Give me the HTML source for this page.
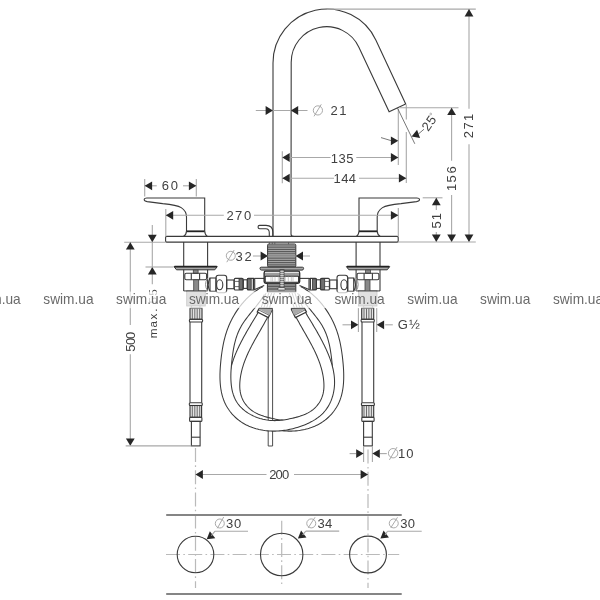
<!DOCTYPE html>
<html><head><meta charset="utf-8"><title>drawing</title><style>
html,body{margin:0;padding:0;background:#fff;}
svg{display:block;will-change:transform;}
.o{fill:none;stroke:#3a3a3a;stroke-width:1.1;}
.or{fill:none;stroke:#444;stroke-width:0.95;}
.oc{fill:none;stroke:#3a3a3a;stroke-width:1.05;}
.ol{fill:none;stroke:#888;stroke-width:1;}
.ok{stroke:#222;stroke-width:1.8;}
.oh{stroke:#555;stroke-width:0.85;}
.oh2{stroke:#bbb;stroke-width:0.8;}
.ob{fill:#fff;stroke:#2a2a2a;stroke-width:1.6;}
.ow{fill:#fff;stroke:#333;stroke-width:1.1;}
.nb{fill:#9c9c9c;stroke:#2a2a2a;stroke-width:1.3;}
.wb{fill:#fff;stroke:none;}
.pl{fill:#fff;stroke:#3a3a3a;stroke-width:1.1;}
.fl{fill:#a8a8a8;stroke:#333;stroke-width:1;}
.th{fill:#8a8a8a;stroke:#444;stroke-width:0.8;}
.tb{fill:#bcbcbc;stroke:#333;stroke-width:1;}
.thl{stroke:#4a4a4a;stroke-width:0.95;}
.thl2{stroke:#ddd;stroke-width:0.8;}
.wl{stroke:#f4f4f4;stroke-width:0.9;}
.lt{fill:#909090;stroke:#444;stroke-width:0.8;}
.lt2{fill:#fff;stroke:#444;stroke-width:0.8;}
.cr{fill:#e4e4e4;stroke:#333;stroke-width:1.1;}
.kn{fill:#707070;stroke:#333;stroke-width:0.8;}
.ok2{stroke:#333;stroke-width:1.3;}
.crp{fill:#fff;stroke:#333;stroke-width:1.3;}
.d{stroke:#a8a8a8;stroke-width:1.1;}
.cl{stroke:#bababa;stroke-width:1.2;stroke-dasharray:14,3.3,1.6,3.3;}
.hl{stroke:#858585;stroke-width:2;}
.thin{stroke:#555;stroke-width:0.8;}
.ds{fill:none;stroke:#a0a0a0;stroke-width:0.9;}
.a{fill:#262626;}
.tr{font-family:"Liberation Sans",sans-serif;font-size:13px;fill:#404040;}
.one{fill:none;stroke:#383838;stroke-width:1.25;stroke-linejoin:miter;}
.tg{font-family:"Liberation Sans",sans-serif;font-size:13px;fill:#333;}
.wm{font-family:"Liberation Sans",sans-serif;font-size:14.5px;fill:#6a6a6a;}
</style></head><body>
<svg width="600" height="600" viewBox="0 0 600 600">
<rect width="600" height="600" fill="#fff"/>
<path class="o" d="M273,236 L273,63 A54,54 0 0 1 375.94,40.18 L405.7,104 L389.12,111.73 L358.87,47.2 A35.5,35.5 0 0 0 291.2,62.2 L291,234 Q291,236.4 293.5,236.4"/>
<path class="o" d="M272.8,236.4 L272.8,232 C272.8,227.2 270,225.4 266,225.4 L259.6,225.4 C257.5,225.4 257.5,228.8 259.6,228.8 L265.8,228.8 C268.5,228.8 269.3,230.5 269.3,233 L269.3,236.4"/>
<rect class="pl" x="165.6" y="236.4" width="232.6" height="5.7" rx="1"/>
<path class="o" d="M359,231 L359,198 L416.5,198 C420.5,197.8 420.5,200.8 416.5,201.6 L401,203.6 C391,204.6 386,205.4 382.5,207.6 C378.8,210 377.2,213 377.2,217 L377.2,231"/>
<line class="ok" x1="359" y1="231.3" x2="377.2" y2="231.3"/>
<path class="o" d="M359,231 Q358.8,235 356.3,236.4"/>
<path class="o" d="M377.2,231 Q377.4,235 380.3,236.4"/>
<path class="o" d="M204.7,231 L204.7,198 L147.2,198 C143.2,197.8 143.2,200.8 147.2,201.6 L162.7,203.6 C172.7,204.6 177.7,205.4 181.2,207.6 C184.9,210 186.5,213 186.5,217 L186.5,231"/>
<line class="ok" x1="204.7" y1="231.3" x2="186.5" y2="231.3"/>
<path class="o" d="M204.7,231 Q204.9,235 207.4,236.4"/>
<path class="o" d="M186.5,231 Q186.3,235 183.4,236.4"/>
<line class="or" x1="268.2" y1="310" x2="268.2" y2="446"/>
<line class="or" x1="272.6" y1="310" x2="272.6" y2="446"/>
<line class="or" x1="268.2" y1="446" x2="272.6" y2="446"/>
<path class="oc" d="M300.9,286.68 L302.22,287.38 L303.52,288.12 L304.8,288.9 L306.06,289.7 L307.3,290.54 L308.52,291.4 L309.72,292.29 L310.9,293.21 L312.06,294.16 L313.2,295.13 L314.31,296.12 L315.41,297.14 L316.48,298.17 L317.54,299.23 L318.57,300.32 L319.58,301.42 L320.57,302.54 L321.54,303.67 L322.49,304.83 L323.41,306 L324.32,307.19 L325.2,308.4 L326.06,309.62 L326.9,310.86 L327.72,312.11 L328.52,313.38 L329.29,314.65 L330.05,315.95 L330.78,317.25 L331.48,318.57 L332.17,319.89 L332.83,321.23 L333.47,322.58 L334.09,323.95 L334.69,325.32 L335.26,326.7 L335.8,328.09 L336.33,329.49 L336.83,330.9 L337.3,332.32 L337.75,333.74 L338.19,335.17 L338.59,336.61 L338.98,338.05 L339.35,339.5 L339.7,340.96 L340.03,342.42 L340.34,343.88 L340.63,345.34 L340.91,346.81 L341.17,348.29 L341.41,349.76 L341.64,351.24 L341.86,352.72 L342.06,354.2 L342.26,355.68 L342.44,357.16 L342.61,358.65 L342.77,360.14 L342.92,361.62 L343.06,363.11 L343.2,364.6 L343.32,366.09 L343.42,367.58 L343.51,369.07 L343.59,370.57 L343.65,372.06 L343.7,373.55 L343.72,375.05 L343.73,376.54 L343.71,378.04 L343.68,379.53 L343.61,381.03 L343.53,382.52 L343.42,384.01 L343.28,385.5 L343.11,386.98 L342.91,388.47 L342.67,389.94 L342.41,391.41 L342.1,392.88 L341.76,394.33 L341.39,395.78 L340.97,397.21 L340.5,398.63 L340,400.04 L339.45,401.43 L338.86,402.8 L338.21,404.15 L337.53,405.48 L336.8,406.79 L336.02,408.06 L335.2,409.32 L334.35,410.54 L333.45,411.74 L332.51,412.9 L331.54,414.04 L330.53,415.14 L329.49,416.21 L328.41,417.25 L327.3,418.25 L326.16,419.22 L324.99,420.15 L323.79,421.04 L322.57,421.89 L321.31,422.71 L320.03,423.48 L318.73,424.21 L317.41,424.91 L316.06,425.56 L314.7,426.17 L313.32,426.75 L311.92,427.29 L310.52,427.79 L309.1,428.26 L307.66,428.69 L306.22,429.08 L304.77,429.44 L303.31,429.76 L301.84,430.05 L300.37,430.31 L298.89,430.53 L297.41,430.71 L295.92,430.86 L294.43,430.98 L292.94,431.06 L291.45,431.12 L289.95,431.13 L288.46,431.12 L286.96,431.07 L285.47,431 L283.98,430.89 L282.49,430.75 L281,430.58 L279.52,430.38 L278.04,430.16 L276.57,429.91 L275.1,429.63 L273.64,429.33 L272.18,429 L270.73,428.64 L269.28,428.26 L267.84,427.86 L266.41,427.44 L264.98,426.99 L263.56,426.52 L262.15,426.03 L260.75,425.51 L259.35,424.97 L257.97,424.4 L256.6,423.81 L255.24,423.18 L253.9,422.53 L252.57,421.84 L251.26,421.13 L249.96,420.38 L248.69,419.59 L247.44,418.77 L246.22,417.91 L245.02,417.02 L243.85,416.08 L242.72,415.11 L241.63,414.09 L240.57,413.03 L239.56,411.93 L238.59,410.79 L237.67,409.62 L236.8,408.4 L235.97,407.16 L235.19,405.88 L234.47,404.57 L233.79,403.24 L233.15,401.89 L232.57,400.51 L232.03,399.12 L231.55,397.7 L231.1,396.28 L230.71,394.83 L230.36,393.38 L230.05,391.92 L229.79,390.44 L229.57,388.97 L229.4,387.48 L229.27,385.99 L229.18,384.5 L229.14,383.01 L229.14,381.51 L229.18,380.02 L229.26,378.52 L229.38,377.03 L229.54,375.55 L229.73,374.06 L229.97,372.59 L230.23,371.12 L230.53,369.65 L230.86,368.19 L231.21,366.74 L231.6,365.3 L232.01,363.86 L232.45,362.43 L232.91,361.01 L233.39,359.59 L233.89,358.18 L234.42,356.78 L234.96,355.39 L235.52,354.01 L236.1,352.63 L236.69,351.25 L237.3,349.89 L237.92,348.53 L238.55,347.18 L239.2,345.83 L239.86,344.49 L240.53,343.15 L241.21,341.82 L241.9,340.49 L242.59,339.17 L243.3,337.85 L244.01,336.54 L244.73,335.23 L245.46,333.92 L246.19,332.62 L246.93,331.32 L247.68,330.02 L248.43,328.73 L249.19,327.44 L249.95,326.15 L250.71,324.87 L251.48,323.59 L252.25,322.3 L253.02,321.02 L253.79,319.74 L254.57,318.47 L255.34,317.19 L256.12,315.91 L256.89,314.63 L257.67,313.35 L258.44,312.07"/>
<path class="oc" d="M299.26,294.49 L300,295.78 L300.78,297.06 L301.6,298.32 L302.44,299.56 L303.31,300.78 L304.19,301.99 L305.09,303.18 L306.01,304.37 L306.94,305.54 L307.87,306.71 L308.82,307.88 L309.76,309.04 L310.71,310.19 L311.66,311.35 L312.61,312.51 L313.55,313.68 L314.49,314.85 L315.41,316.02 L316.33,317.21 L317.24,318.4 L318.13,319.6 L319,320.82 L319.85,322.05 L320.68,323.3 L321.48,324.56 L322.26,325.85 L322.99,327.15 L323.7,328.47 L324.36,329.81 L324.99,331.17 L325.59,332.55 L326.15,333.94 L326.67,335.34 L327.16,336.75 L327.62,338.18 L328.05,339.61 L328.45,341.06 L328.83,342.51 L329.17,343.96 L329.5,345.43 L329.8,346.89 L330.08,348.36 L330.34,349.84 L330.58,351.32 L330.81,352.8 L331.02,354.28 L331.23,355.76 L331.42,357.25 L331.6,358.74 L331.77,360.22 L331.93,361.71 L332.09,363.2 L332.23,364.69 L332.36,366.18 L332.48,367.68 L332.59,369.17 L332.68,370.67 L332.75,372.16 L332.8,373.66 L332.84,375.16 L332.85,376.65 L332.83,378.15 L332.79,379.65 L332.72,381.14 L332.62,382.64 L332.49,384.13 L332.33,385.62 L332.12,387.1 L331.88,388.58 L331.59,390.05 L331.26,391.51 L330.88,392.96 L330.45,394.39 L329.96,395.81 L329.42,397.2 L328.81,398.58 L328.15,399.92 L327.43,401.23 L326.64,402.5 L325.79,403.74 L324.88,404.93 L323.92,406.07 L322.9,407.17 L321.84,408.23 L320.74,409.24 L319.6,410.21 L318.42,411.13 L317.2,412.01 L315.96,412.85 L314.69,413.64 L313.39,414.39 L312.07,415.09 L310.73,415.76 L309.37,416.38 L307.99,416.96 L306.59,417.5 L305.18,418 L303.75,418.45 L302.31,418.86 L300.86,419.24 L299.4,419.56 L297.93,419.85 L296.45,420.09 L294.96,420.28 L293.47,420.43 L291.98,420.54 L290.48,420.6 L288.99,420.61 L287.49,420.59 L285.99,420.52 L284.5,420.42 L283.01,420.28 L281.52,420.11 L280.04,419.91 L278.55,419.68 L277.08,419.43 L275.61,419.16 L274.14,418.86 L272.67,418.55 L271.21,418.23 L269.75,417.88 L268.3,417.52 L266.85,417.13 L265.41,416.72 L263.98,416.28 L262.56,415.8 L261.15,415.29 L259.76,414.75 L258.38,414.16 L257.02,413.53 L255.69,412.85 L254.38,412.11 L253.11,411.33 L251.88,410.48 L250.68,409.57 L249.54,408.61 L248.45,407.58 L247.41,406.5 L246.43,405.37 L245.51,404.19 L244.65,402.96 L243.85,401.69 L243.13,400.39 L242.46,399.04 L241.87,397.67 L241.36,396.26 L240.91,394.83 L240.54,393.38 L240.25,391.91 L240.03,390.43 L239.88,388.94 L239.79,387.45 L239.75,385.95 L239.77,384.45 L239.83,382.95 L239.93,381.46 L240.07,379.97 L240.25,378.48 L240.46,377 L240.7,375.52 L240.98,374.05 L241.29,372.58 L241.62,371.12 L241.99,369.67 L242.38,368.23 L242.8,366.79 L243.24,365.36 L243.71,363.93 L244.2,362.52 L244.71,361.11 L245.25,359.71 L245.8,358.32 L246.38,356.94 L246.97,355.56 L247.58,354.2 L248.2,352.83 L248.84,351.48 L249.49,350.13 L250.15,348.79 L250.83,347.45 L251.51,346.12 L252.21,344.79 L252.91,343.47 L253.63,342.15 L254.35,340.84 L255.07,339.53 L255.8,338.22 L256.54,336.92 L257.28,335.62 L258.02,334.32 L258.77,333.02 L259.51,331.72 L260.26,330.42 L261,329.12 L261.75,327.82 L262.49,326.52 L263.23,325.22 L263.96,323.91 L264.69,322.6 L265.41,321.29 L266.13,319.98 L266.84,318.66 L267.54,317.33"/>
<path class="wb" d="M262.8,286.68 L261.48,287.38 L260.18,288.12 L258.9,288.9 L257.64,289.7 L256.4,290.54 L255.18,291.4 L253.98,292.29 L252.8,293.21 L251.64,294.16 L250.5,295.13 L249.39,296.12 L248.29,297.14 L247.22,298.17 L246.16,299.23 L245.13,300.32 L244.12,301.42 L243.13,302.54 L242.16,303.67 L241.21,304.83 L240.29,306 L239.38,307.19 L238.5,308.4 L237.64,309.62 L236.8,310.86 L235.98,312.11 L235.18,313.38 L234.41,314.65 L233.65,315.95 L232.92,317.25 L232.22,318.57 L231.53,319.89 L230.87,321.23 L230.23,322.58 L229.61,323.95 L229.01,325.32 L228.44,326.7 L227.9,328.09 L227.37,329.49 L226.87,330.9 L226.4,332.32 L225.95,333.74 L225.51,335.17 L225.11,336.61 L224.72,338.05 L224.35,339.5 L224,340.96 L223.67,342.42 L223.36,343.88 L223.07,345.34 L222.79,346.81 L222.53,348.29 L222.29,349.76 L222.06,351.24 L221.84,352.72 L221.64,354.2 L221.44,355.68 L221.26,357.16 L221.09,358.65 L220.93,360.14 L220.78,361.62 L220.64,363.11 L220.5,364.6 L220.38,366.09 L220.28,367.58 L220.19,369.07 L220.11,370.57 L220.05,372.06 L220,373.55 L219.98,375.05 L219.97,376.54 L219.99,378.04 L220.02,379.53 L220.09,381.03 L220.17,382.52 L220.28,384.01 L220.42,385.5 L220.59,386.98 L220.79,388.47 L221.03,389.94 L221.29,391.41 L221.6,392.88 L221.94,394.33 L222.31,395.78 L222.73,397.21 L223.2,398.63 L223.7,400.04 L224.25,401.43 L224.84,402.8 L225.49,404.15 L226.17,405.48 L226.9,406.79 L227.68,408.06 L228.5,409.32 L229.35,410.54 L230.25,411.74 L231.19,412.9 L232.16,414.04 L233.17,415.14 L234.21,416.21 L235.29,417.25 L236.4,418.25 L237.54,419.22 L238.71,420.15 L239.91,421.04 L241.13,421.89 L242.39,422.71 L243.67,423.48 L244.97,424.21 L246.29,424.91 L247.64,425.56 L249,426.17 L250.38,426.75 L251.78,427.29 L253.18,427.79 L254.6,428.26 L256.04,428.69 L257.48,429.08 L258.93,429.44 L260.39,429.76 L261.86,430.05 L263.33,430.31 L264.81,430.53 L266.29,430.71 L267.78,430.86 L269.27,430.98 L270.76,431.06 L272.25,431.12 L273.75,431.13 L275.24,431.12 L276.74,431.07 L278.23,431 L279.72,430.89 L281.21,430.75 L282.7,430.58 L284.18,430.38 L285.66,430.16 L287.13,429.91 L288.6,429.63 L290.06,429.33 L291.52,429 L292.97,428.64 L294.42,428.26 L295.86,427.86 L297.29,427.44 L298.72,426.99 L300.14,426.52 L301.55,426.03 L302.95,425.51 L304.35,424.97 L305.73,424.4 L307.1,423.81 L308.46,423.18 L309.8,422.53 L311.13,421.84 L312.44,421.13 L313.74,420.38 L315.01,419.59 L316.26,418.77 L317.48,417.91 L318.68,417.02 L319.85,416.08 L320.98,415.11 L322.07,414.09 L323.13,413.03 L324.14,411.93 L325.11,410.79 L326.03,409.62 L326.9,408.4 L327.73,407.16 L328.51,405.88 L329.23,404.57 L329.91,403.24 L330.55,401.89 L331.13,400.51 L331.67,399.12 L332.15,397.7 L332.6,396.28 L332.99,394.83 L333.34,393.38 L333.65,391.92 L333.91,390.44 L334.13,388.97 L334.3,387.48 L334.43,385.99 L334.52,384.5 L334.56,383.01 L334.56,381.51 L334.52,380.02 L334.44,378.52 L334.32,377.03 L334.16,375.55 L333.97,374.06 L333.73,372.59 L333.47,371.12 L333.17,369.65 L332.84,368.19 L332.49,366.74 L332.1,365.3 L331.69,363.86 L331.25,362.43 L330.79,361.01 L330.31,359.59 L329.81,358.18 L329.28,356.78 L328.74,355.39 L328.18,354.01 L327.6,352.63 L327.01,351.25 L326.4,349.89 L325.78,348.53 L325.15,347.18 L324.5,345.83 L323.84,344.49 L323.17,343.15 L322.49,341.82 L321.8,340.49 L321.11,339.17 L320.4,337.85 L319.69,336.54 L318.97,335.23 L318.24,333.92 L317.51,332.62 L316.77,331.32 L316.02,330.02 L315.27,328.73 L314.51,327.44 L313.75,326.15 L312.99,324.87 L312.22,323.59 L311.45,322.3 L310.68,321.02 L309.91,319.74 L309.13,318.47 L308.36,317.19 L307.58,315.91 L306.81,314.63 L306.03,313.35 L305.26,312.07 L296.16,317.33 L296.86,318.66 L297.57,319.98 L298.29,321.29 L299.01,322.6 L299.74,323.91 L300.47,325.22 L301.21,326.52 L301.95,327.82 L302.7,329.12 L303.44,330.42 L304.19,331.72 L304.93,333.02 L305.68,334.32 L306.42,335.62 L307.16,336.92 L307.9,338.22 L308.63,339.53 L309.35,340.84 L310.07,342.15 L310.79,343.47 L311.49,344.79 L312.19,346.12 L312.87,347.45 L313.55,348.79 L314.21,350.13 L314.86,351.48 L315.5,352.83 L316.12,354.2 L316.73,355.56 L317.32,356.94 L317.9,358.32 L318.45,359.71 L318.99,361.11 L319.5,362.52 L319.99,363.93 L320.46,365.36 L320.9,366.79 L321.32,368.23 L321.71,369.67 L322.08,371.12 L322.41,372.58 L322.72,374.05 L323,375.52 L323.24,377 L323.45,378.48 L323.63,379.97 L323.77,381.46 L323.87,382.95 L323.93,384.45 L323.95,385.95 L323.91,387.45 L323.82,388.94 L323.67,390.43 L323.45,391.91 L323.16,393.38 L322.79,394.83 L322.34,396.26 L321.83,397.67 L321.24,399.04 L320.57,400.39 L319.85,401.69 L319.05,402.96 L318.19,404.19 L317.27,405.37 L316.29,406.5 L315.25,407.58 L314.16,408.61 L313.02,409.57 L311.82,410.48 L310.59,411.33 L309.32,412.11 L308.01,412.85 L306.68,413.53 L305.32,414.16 L303.94,414.75 L302.55,415.29 L301.14,415.8 L299.72,416.28 L298.29,416.72 L296.85,417.13 L295.4,417.52 L293.95,417.88 L292.49,418.23 L291.03,418.55 L289.56,418.86 L288.09,419.16 L286.62,419.43 L285.15,419.68 L283.66,419.91 L282.18,420.11 L280.69,420.28 L279.2,420.42 L277.71,420.52 L276.21,420.59 L274.71,420.61 L273.22,420.6 L271.72,420.54 L270.23,420.43 L268.74,420.28 L267.25,420.09 L265.77,419.85 L264.3,419.56 L262.84,419.24 L261.39,418.86 L259.95,418.45 L258.52,418 L257.11,417.5 L255.71,416.96 L254.33,416.38 L252.97,415.76 L251.63,415.09 L250.31,414.39 L249.01,413.64 L247.74,412.85 L246.5,412.01 L245.28,411.13 L244.1,410.21 L242.96,409.24 L241.86,408.23 L240.8,407.17 L239.78,406.07 L238.82,404.93 L237.91,403.74 L237.06,402.5 L236.27,401.23 L235.55,399.92 L234.89,398.58 L234.28,397.2 L233.74,395.81 L233.25,394.39 L232.82,392.96 L232.44,391.51 L232.11,390.05 L231.82,388.58 L231.58,387.1 L231.37,385.62 L231.21,384.13 L231.08,382.64 L230.98,381.14 L230.91,379.65 L230.87,378.15 L230.85,376.65 L230.86,375.16 L230.9,373.66 L230.95,372.16 L231.02,370.67 L231.11,369.17 L231.22,367.68 L231.34,366.18 L231.47,364.69 L231.61,363.2 L231.77,361.71 L231.93,360.22 L232.1,358.74 L232.28,357.25 L232.47,355.76 L232.68,354.28 L232.89,352.8 L233.12,351.32 L233.36,349.84 L233.62,348.36 L233.9,346.89 L234.2,345.43 L234.53,343.96 L234.87,342.51 L235.25,341.06 L235.65,339.61 L236.08,338.18 L236.54,336.75 L237.03,335.34 L237.55,333.94 L238.11,332.55 L238.71,331.17 L239.34,329.81 L240,328.47 L240.71,327.15 L241.44,325.85 L242.22,324.56 L243.02,323.3 L243.85,322.05 L244.7,320.82 L245.57,319.6 L246.46,318.4 L247.37,317.21 L248.29,316.02 L249.21,314.85 L250.15,313.68 L251.09,312.51 L252.04,311.35 L252.99,310.19 L253.94,309.04 L254.88,307.88 L255.83,306.71 L256.76,305.54 L257.69,304.37 L258.61,303.18 L259.51,301.99 L260.39,300.78 L261.26,299.56 L262.1,298.32 L262.92,297.06 L263.7,295.78 L264.44,294.49 Z"/>
<path class="oc" d="M262.8,286.68 L261.48,287.38 L260.18,288.12 L258.9,288.9 L257.64,289.7 L256.4,290.54 L255.18,291.4 L253.98,292.29 L252.8,293.21 L251.64,294.16 L250.5,295.13 L249.39,296.12 L248.29,297.14 L247.22,298.17 L246.16,299.23 L245.13,300.32 L244.12,301.42 L243.13,302.54 L242.16,303.67 L241.21,304.83 L240.29,306 L239.38,307.19 L238.5,308.4 L237.64,309.62 L236.8,310.86 L235.98,312.11 L235.18,313.38 L234.41,314.65 L233.65,315.95 L232.92,317.25 L232.22,318.57 L231.53,319.89 L230.87,321.23 L230.23,322.58 L229.61,323.95 L229.01,325.32 L228.44,326.7 L227.9,328.09 L227.37,329.49 L226.87,330.9 L226.4,332.32 L225.95,333.74 L225.51,335.17 L225.11,336.61 L224.72,338.05 L224.35,339.5 L224,340.96 L223.67,342.42 L223.36,343.88 L223.07,345.34 L222.79,346.81 L222.53,348.29 L222.29,349.76 L222.06,351.24 L221.84,352.72 L221.64,354.2 L221.44,355.68 L221.26,357.16 L221.09,358.65 L220.93,360.14 L220.78,361.62 L220.64,363.11 L220.5,364.6 L220.38,366.09 L220.28,367.58 L220.19,369.07 L220.11,370.57 L220.05,372.06 L220,373.55 L219.98,375.05 L219.97,376.54 L219.99,378.04 L220.02,379.53 L220.09,381.03 L220.17,382.52 L220.28,384.01 L220.42,385.5 L220.59,386.98 L220.79,388.47 L221.03,389.94 L221.29,391.41 L221.6,392.88 L221.94,394.33 L222.31,395.78 L222.73,397.21 L223.2,398.63 L223.7,400.04 L224.25,401.43 L224.84,402.8 L225.49,404.15 L226.17,405.48 L226.9,406.79 L227.68,408.06 L228.5,409.32 L229.35,410.54 L230.25,411.74 L231.19,412.9 L232.16,414.04 L233.17,415.14 L234.21,416.21 L235.29,417.25 L236.4,418.25 L237.54,419.22 L238.71,420.15 L239.91,421.04 L241.13,421.89 L242.39,422.71 L243.67,423.48 L244.97,424.21 L246.29,424.91 L247.64,425.56 L249,426.17 L250.38,426.75 L251.78,427.29 L253.18,427.79 L254.6,428.26 L256.04,428.69 L257.48,429.08 L258.93,429.44 L260.39,429.76 L261.86,430.05 L263.33,430.31 L264.81,430.53 L266.29,430.71 L267.78,430.86 L269.27,430.98 L270.76,431.06 L272.25,431.12 L273.75,431.13 L275.24,431.12 L276.74,431.07 L278.23,431 L279.72,430.89 L281.21,430.75 L282.7,430.58 L284.18,430.38 L285.66,430.16 L287.13,429.91 L288.6,429.63 L290.06,429.33 L291.52,429 L292.97,428.64 L294.42,428.26 L295.86,427.86 L297.29,427.44 L298.72,426.99 L300.14,426.52 L301.55,426.03 L302.95,425.51 L304.35,424.97 L305.73,424.4 L307.1,423.81 L308.46,423.18 L309.8,422.53 L311.13,421.84 L312.44,421.13 L313.74,420.38 L315.01,419.59 L316.26,418.77 L317.48,417.91 L318.68,417.02 L319.85,416.08 L320.98,415.11 L322.07,414.09 L323.13,413.03 L324.14,411.93 L325.11,410.79 L326.03,409.62 L326.9,408.4 L327.73,407.16 L328.51,405.88 L329.23,404.57 L329.91,403.24 L330.55,401.89 L331.13,400.51 L331.67,399.12 L332.15,397.7 L332.6,396.28 L332.99,394.83 L333.34,393.38 L333.65,391.92 L333.91,390.44 L334.13,388.97 L334.3,387.48 L334.43,385.99 L334.52,384.5 L334.56,383.01 L334.56,381.51 L334.52,380.02 L334.44,378.52 L334.32,377.03 L334.16,375.55 L333.97,374.06 L333.73,372.59 L333.47,371.12 L333.17,369.65 L332.84,368.19 L332.49,366.74 L332.1,365.3 L331.69,363.86 L331.25,362.43 L330.79,361.01 L330.31,359.59 L329.81,358.18 L329.28,356.78 L328.74,355.39 L328.18,354.01 L327.6,352.63 L327.01,351.25 L326.4,349.89 L325.78,348.53 L325.15,347.18 L324.5,345.83 L323.84,344.49 L323.17,343.15 L322.49,341.82 L321.8,340.49 L321.11,339.17 L320.4,337.85 L319.69,336.54 L318.97,335.23 L318.24,333.92 L317.51,332.62 L316.77,331.32 L316.02,330.02 L315.27,328.73 L314.51,327.44 L313.75,326.15 L312.99,324.87 L312.22,323.59 L311.45,322.3 L310.68,321.02 L309.91,319.74 L309.13,318.47 L308.36,317.19 L307.58,315.91 L306.81,314.63 L306.03,313.35 L305.26,312.07"/>
<path class="oc" d="M264.44,294.49 L263.7,295.78 L262.92,297.06 L262.1,298.32 L261.26,299.56 L260.39,300.78 L259.51,301.99 L258.61,303.18 L257.69,304.37 L256.76,305.54 L255.83,306.71 L254.88,307.88 L253.94,309.04 L252.99,310.19 L252.04,311.35 L251.09,312.51 L250.15,313.68 L249.21,314.85 L248.29,316.02 L247.37,317.21 L246.46,318.4 L245.57,319.6 L244.7,320.82 L243.85,322.05 L243.02,323.3 L242.22,324.56 L241.44,325.85 L240.71,327.15 L240,328.47 L239.34,329.81 L238.71,331.17 L238.11,332.55 L237.55,333.94 L237.03,335.34 L236.54,336.75 L236.08,338.18 L235.65,339.61 L235.25,341.06 L234.87,342.51 L234.53,343.96 L234.2,345.43 L233.9,346.89 L233.62,348.36 L233.36,349.84 L233.12,351.32 L232.89,352.8 L232.68,354.28 L232.47,355.76 L232.28,357.25 L232.1,358.74 L231.93,360.22 L231.77,361.71 L231.61,363.2 L231.47,364.69 L231.34,366.18 L231.22,367.68 L231.11,369.17 L231.02,370.67 L230.95,372.16 L230.9,373.66 L230.86,375.16 L230.85,376.65 L230.87,378.15 L230.91,379.65 L230.98,381.14 L231.08,382.64 L231.21,384.13 L231.37,385.62 L231.58,387.1 L231.82,388.58 L232.11,390.05 L232.44,391.51 L232.82,392.96 L233.25,394.39 L233.74,395.81 L234.28,397.2 L234.89,398.58 L235.55,399.92 L236.27,401.23 L237.06,402.5 L237.91,403.74 L238.82,404.93 L239.78,406.07 L240.8,407.17 L241.86,408.23 L242.96,409.24 L244.1,410.21 L245.28,411.13 L246.5,412.01 L247.74,412.85 L249.01,413.64 L250.31,414.39 L251.63,415.09 L252.97,415.76 L254.33,416.38 L255.71,416.96 L257.11,417.5 L258.52,418 L259.95,418.45 L261.39,418.86 L262.84,419.24 L264.3,419.56 L265.77,419.85 L267.25,420.09 L268.74,420.28 L270.23,420.43 L271.72,420.54 L273.22,420.6 L274.71,420.61 L276.21,420.59 L277.71,420.52 L279.2,420.42 L280.69,420.28 L282.18,420.11 L283.66,419.91 L285.15,419.68 L286.62,419.43 L288.09,419.16 L289.56,418.86 L291.03,418.55 L292.49,418.23 L293.95,417.88 L295.4,417.52 L296.85,417.13 L298.29,416.72 L299.72,416.28 L301.14,415.8 L302.55,415.29 L303.94,414.75 L305.32,414.16 L306.68,413.53 L308.01,412.85 L309.32,412.11 L310.59,411.33 L311.82,410.48 L313.02,409.57 L314.16,408.61 L315.25,407.58 L316.29,406.5 L317.27,405.37 L318.19,404.19 L319.05,402.96 L319.85,401.69 L320.57,400.39 L321.24,399.04 L321.83,397.67 L322.34,396.26 L322.79,394.83 L323.16,393.38 L323.45,391.91 L323.67,390.43 L323.82,388.94 L323.91,387.45 L323.95,385.95 L323.93,384.45 L323.87,382.95 L323.77,381.46 L323.63,379.97 L323.45,378.48 L323.24,377 L323,375.52 L322.72,374.05 L322.41,372.58 L322.08,371.12 L321.71,369.67 L321.32,368.23 L320.9,366.79 L320.46,365.36 L319.99,363.93 L319.5,362.52 L318.99,361.11 L318.45,359.71 L317.9,358.32 L317.32,356.94 L316.73,355.56 L316.12,354.2 L315.5,352.83 L314.86,351.48 L314.21,350.13 L313.55,348.79 L312.87,347.45 L312.19,346.12 L311.49,344.79 L310.79,343.47 L310.07,342.15 L309.35,340.84 L308.63,339.53 L307.9,338.22 L307.16,336.92 L306.42,335.62 L305.68,334.32 L304.93,333.02 L304.19,331.72 L303.44,330.42 L302.7,329.12 L301.95,327.82 L301.21,326.52 L300.47,325.22 L299.74,323.91 L299.01,322.6 L298.29,321.29 L297.57,319.98 L296.86,318.66 L296.16,317.33"/>
<polygon class="crp" points="257.3,312 268.3,317.7 272.2,309.6 272.2,308.3 259.4,308"/>
<polygon fill="#a9a9a9" points="259,309.2 269.8,314.9 271.6,310.6 271.6,308.9 259.8,308.7"/>
<line class="oh" x1="258.6" y1="309.9" x2="269.6" y2="315.5"/>
<line class="oh" x1="261" y1="308" x2="266" y2="293"/>
<line class="oh" x1="263.8" y1="308" x2="268.8" y2="293"/>
<line class="oh" x1="266.6" y1="308" x2="271.6" y2="293"/>
<line class="oh" x1="269.4" y1="308" x2="274.4" y2="293"/>
<polygon class="crp" points="306.4,312 295.4,317.7 291.5,309.6 291.5,308.3 304.3,308"/>
<polygon fill="#a9a9a9" points="304.7,309.2 293.9,314.9 292.1,310.6 292.1,308.9 303.9,308.7"/>
<line class="oh" x1="305.1" y1="309.9" x2="294.1" y2="315.5"/>
<line class="oh" x1="302.7" y1="308" x2="297.7" y2="293"/>
<line class="oh" x1="299.9" y1="308" x2="294.9" y2="293"/>
<line class="oh" x1="297.1" y1="308" x2="292.1" y2="293"/>
<line class="oh" x1="294.3" y1="308" x2="289.3" y2="293"/>
<line class="o" x1="183.7" y1="242" x2="183.7" y2="291"/>
<line class="o" x1="207.6" y1="242" x2="207.6" y2="291"/>
<line class="o" x1="183.7" y1="291" x2="207.6" y2="291"/>
<path class="fl" d="M174,266.6 L217.3,266.6 L214.8,269.8 L176.5,269.8 Z"/>
<line class="ok" x1="174.5" y1="266.6" x2="216.8" y2="266.6"/>
<rect class="th" x="193.3" y="270" width="4.8" height="3.3"/>
<rect class="o" x="184.8" y="273.3" width="21.8" height="6.5" rx="1.5"/>
<line class="o" x1="191.3" y1="273.3" x2="191.3" y2="279.8"/>
<line class="o" x1="199.6" y1="273.3" x2="199.6" y2="279.8"/>
<rect class="th" x="193.7" y="279.8" width="5" height="25.2"/>
<rect class="lt" x="186.7" y="291" width="18.6" height="15"/>
<rect class="lt2" x="191.3" y="306" width="8.7" height="2"/>
<rect class="cr" x="190" y="308" width="12" height="11.3"/>
<line class="oh" x1="192.3" y1="308.5" x2="192.3" y2="319"/>
<line class="oh" x1="194.8" y1="308.5" x2="194.8" y2="319"/>
<line class="oh" x1="197.2" y1="308.5" x2="197.2" y2="319"/>
<line class="oh" x1="199.7" y1="308.5" x2="199.7" y2="319"/>
<rect class="o" x="189.4" y="319.3" width="13.2" height="2.7" rx="1"/>
<line class="o" x1="190" y1="322" x2="190" y2="402.8"/>
<line class="o" x1="201.7" y1="322" x2="201.7" y2="402.8"/>
<rect class="o" x="189.3" y="402.8" width="13" height="2.7" rx="1"/>
<rect class="cr" x="190" y="405.5" width="11.6" height="11.8"/>
<line class="oh" x1="192.3" y1="406" x2="192.3" y2="417"/>
<line class="oh" x1="194.8" y1="406" x2="194.8" y2="417"/>
<line class="oh" x1="197.2" y1="406" x2="197.2" y2="417"/>
<line class="oh" x1="199.7" y1="406" x2="199.7" y2="417"/>
<rect class="o" x="189.6" y="417.3" width="12.3" height="4.1" rx="1"/>
<rect class="o" x="191.4" y="421.4" width="8.7" height="24.5"/>
<line class="o" x1="191.4" y1="437.2" x2="200.1" y2="437.2"/>
<path class="ol" d="M207.6,278 Q203.5,284.5 207.6,291"/>
<rect class="o" x="210" y="278" width="6" height="13.3"/>
<path class="o" d="M210,278 Q206.5,284.6 210,291.3"/>
<rect class="o" x="216" y="275.3" width="10.7" height="17.4" rx="2.5"/>
<ellipse class="o" cx="219.7" cy="284.8" rx="3.1" ry="5.0"/>
<rect class="o" x="226.7" y="280" width="7.3" height="8.7"/>
<rect class="o" x="234.3" y="278.4" width="8.7" height="11.6" rx="1"/>
<line class="oh" x1="234.5" y1="281.4" x2="239" y2="281.4"/>
<line class="oh" x1="234.5" y1="286.6" x2="239" y2="286.6"/>
<rect class="kn" x="239" y="278.8" width="4" height="10.8"/>
<rect class="o" x="243.3" y="279.8" width="4" height="8.6"/>
<rect class="o" x="247.3" y="278.4" width="7.4" height="11.6" rx="1"/>
<rect class="kn" x="247.5" y="278.8" width="3.7" height="10.8"/>
<line class="ok2" x1="253.4" y1="278.6" x2="253.4" y2="289.8"/>
<path class="o" d="M254.7,278.4 L264.2,278.4"/>
<path class="o" d="M254.7,289.6 L264.2,285.4"/>
<line class="o" x1="380" y1="242" x2="380" y2="291"/>
<line class="o" x1="356.1" y1="242" x2="356.1" y2="291"/>
<line class="o" x1="380" y1="291" x2="356.1" y2="291"/>
<path class="fl" d="M389.7,266.6 L346.4,266.6 L348.9,269.8 L387.2,269.8 Z"/>
<line class="ok" x1="389.2" y1="266.6" x2="346.9" y2="266.6"/>
<rect class="th" x="365.6" y="270" width="4.8" height="3.3"/>
<rect class="o" x="357.1" y="273.3" width="21.8" height="6.5" rx="1.5"/>
<line class="o" x1="372.4" y1="273.3" x2="372.4" y2="279.8"/>
<line class="o" x1="364.1" y1="273.3" x2="364.1" y2="279.8"/>
<rect class="th" x="365" y="279.8" width="5" height="25.2"/>
<rect class="lt" x="358.4" y="291" width="18.6" height="15"/>
<rect class="lt2" x="363.7" y="306" width="8.7" height="2"/>
<rect class="cr" x="361.7" y="308" width="12" height="11.3"/>
<line class="oh" x1="371.4" y1="308.5" x2="371.4" y2="319"/>
<line class="oh" x1="368.9" y1="308.5" x2="368.9" y2="319"/>
<line class="oh" x1="366.5" y1="308.5" x2="366.5" y2="319"/>
<line class="oh" x1="364" y1="308.5" x2="364" y2="319"/>
<rect class="o" x="361.1" y="319.3" width="13.2" height="2.7" rx="1"/>
<line class="o" x1="373.7" y1="322" x2="373.7" y2="402.8"/>
<line class="o" x1="362" y1="322" x2="362" y2="402.8"/>
<rect class="o" x="361.4" y="402.8" width="13" height="2.7" rx="1"/>
<rect class="cr" x="362.1" y="405.5" width="11.6" height="11.8"/>
<line class="oh" x1="371.4" y1="406" x2="371.4" y2="417"/>
<line class="oh" x1="368.9" y1="406" x2="368.9" y2="417"/>
<line class="oh" x1="366.5" y1="406" x2="366.5" y2="417"/>
<line class="oh" x1="364" y1="406" x2="364" y2="417"/>
<rect class="o" x="361.8" y="417.3" width="12.3" height="4.1" rx="1"/>
<rect class="o" x="363.6" y="421.4" width="8.7" height="24.5"/>
<line class="o" x1="372.3" y1="437.2" x2="363.6" y2="437.2"/>
<path class="ol" d="M356.1,278 Q360.2,284.5 356.1,291"/>
<rect class="o" x="347.7" y="278" width="6" height="13.3"/>
<path class="o" d="M353.7,278 Q357.2,284.6 353.7,291.3"/>
<rect class="o" x="337" y="275.3" width="10.7" height="17.4" rx="2.5"/>
<ellipse class="o" cx="344" cy="284.8" rx="3.1" ry="5.0"/>
<rect class="o" x="329.7" y="280" width="7.3" height="8.7"/>
<rect class="o" x="320.7" y="278.4" width="8.7" height="11.6" rx="1"/>
<line class="oh" x1="329.2" y1="281.4" x2="324.7" y2="281.4"/>
<line class="oh" x1="329.2" y1="286.6" x2="324.7" y2="286.6"/>
<rect class="kn" x="320.7" y="278.8" width="4" height="10.8"/>
<rect class="o" x="316.4" y="279.8" width="4" height="8.6"/>
<rect class="o" x="309" y="278.4" width="7.4" height="11.6" rx="1"/>
<rect class="kn" x="312.5" y="278.8" width="3.7" height="10.8"/>
<line class="ok2" x1="310.3" y1="278.6" x2="310.3" y2="289.8"/>
<path class="o" d="M309,278.4 L299.5,278.4"/>
<path class="o" d="M309,289.6 L299.5,285.4"/>
<rect class="tb" x="267.6" y="244" width="28.2" height="23" rx="1.2"/>
<line class="thl" x1="267.9" y1="246" x2="295.5" y2="246"/>
<line class="thl" x1="267.9" y1="247.8" x2="295.5" y2="247.8"/>
<line class="thl" x1="267.9" y1="249.6" x2="295.5" y2="249.6"/>
<line class="thl" x1="267.9" y1="251.4" x2="295.5" y2="251.4"/>
<line class="thl" x1="267.9" y1="253.2" x2="295.5" y2="253.2"/>
<line class="thl" x1="267.9" y1="255.2" x2="295.5" y2="255.2"/>
<line class="thl" x1="267.9" y1="257" x2="295.5" y2="257"/>
<line class="thl" x1="267.9" y1="258.8" x2="295.5" y2="258.8"/>
<line class="thl" x1="267.9" y1="260.6" x2="295.5" y2="260.6"/>
<line class="thl" x1="267.9" y1="262.4" x2="295.5" y2="262.4"/>
<line class="thl" x1="267.9" y1="264.2" x2="295.5" y2="264.2"/>
<line class="thl" x1="267.9" y1="266" x2="295.5" y2="266"/>
<line class="oh" x1="269.5" y1="242.1" x2="269.5" y2="244.2"/>
<line class="oh" x1="272.3" y1="242.1" x2="272.3" y2="244.2"/>
<line class="oh" x1="274.8" y1="242.1" x2="274.8" y2="244.2"/>
<line class="oh" x1="288.5" y1="242.1" x2="288.5" y2="244.2"/>
<path class="fl" d="M261.2,267.2 L302.4,267.2 Q303.8,267.2 303.6,268.6 Q303.4,270.1 302,270.1 L261.6,270.1 Q260.2,270.1 260,268.6 Q259.8,267.2 261.2,267.2 Z"/>
<rect class="nb" x="264.1" y="271.1" width="35.6" height="12.2" rx="1.8"/>
<line class="wl" x1="265" y1="272.4" x2="298.8" y2="272.4"/>
<rect class="ow" x="265.2" y="276.3" width="33.4" height="6" rx="0.8"/>
<line class="oh2" x1="271" y1="276.7" x2="271" y2="282"/>
<line class="oh2" x1="272.7" y1="276.7" x2="272.7" y2="282"/>
<line class="oh2" x1="275" y1="276.7" x2="275" y2="282"/>
<line class="oh2" x1="278.3" y1="276.7" x2="278.3" y2="282"/>
<line class="oh2" x1="285.3" y1="276.7" x2="285.3" y2="282"/>
<line class="oh2" x1="288.3" y1="276.7" x2="288.3" y2="282"/>
<line class="oh2" x1="291.3" y1="276.7" x2="291.3" y2="282"/>
<line class="oh2" x1="293" y1="276.7" x2="293" y2="282"/>
<rect class="tb" x="267.4" y="283.4" width="28.4" height="8.6"/>
<line class="thl" x1="267.6" y1="285" x2="295.6" y2="285"/>
<line class="thl" x1="267.6" y1="286.6" x2="295.6" y2="286.6"/>
<line class="thl" x1="267.6" y1="288.2" x2="295.6" y2="288.2"/>
<line class="thl" x1="267.6" y1="289.8" x2="295.6" y2="289.8"/>
<rect class="th" x="280" y="269.6" width="4" height="18.1"/>
<line class="thl2" x1="280.3" y1="271.5" x2="283.7" y2="271.5"/>
<line class="thl2" x1="280.3" y1="273.5" x2="283.7" y2="273.5"/>
<line class="thl2" x1="280.3" y1="275.5" x2="283.7" y2="275.5"/>
<line class="thl2" x1="280.3" y1="277.5" x2="283.7" y2="277.5"/>
<line class="thl2" x1="280.3" y1="279.5" x2="283.7" y2="279.5"/>
<line class="thl2" x1="280.3" y1="281.5" x2="283.7" y2="281.5"/>
<line class="thl2" x1="280.3" y1="283.5" x2="283.7" y2="283.5"/>
<line class="thl2" x1="280.3" y1="285.5" x2="283.7" y2="285.5"/>
<rect class="lt2" x="278" y="287.7" width="7" height="2.3" rx="0.6"/>
<line class="d" x1="327" y1="9.1" x2="475.8" y2="9.1"/>
<line class="d" x1="469" y1="9.1" x2="469" y2="108.7"/>
<line class="d" x1="469" y1="144.3" x2="469" y2="242"/>
<polygon class="a" points="469,9.1 473.4,16.5 464.6,16.5"/>
<polygon class="a" points="469,242 464.6,234.6 473.4,234.6"/>
<text class="tr" transform="translate(473.1,0) rotate(-90)" x="-138.26 -129.5 -121.06" y="0">271</text>
<line class="d" x1="399" y1="107.7" x2="458.5" y2="107.7"/>
<line class="d" x1="451.6" y1="107.7" x2="451.6" y2="160.8"/>
<line class="d" x1="451.6" y1="195" x2="451.6" y2="242"/>
<polygon class="a" points="451.6,107.7 456,115.1 447.2,115.1"/>
<polygon class="a" points="451.6,242 447.2,234.6 456,234.6"/>
<text class="tr" transform="translate(456,0) rotate(-90)" x="-191.09 -182.45 -173.41" y="0">156</text>
<line class="d" x1="422.7" y1="197.8" x2="442.5" y2="197.8"/>
<line class="d" x1="436.3" y1="197.8" x2="436.3" y2="210"/>
<line class="d" x1="436.3" y1="232" x2="436.3" y2="242"/>
<polygon class="a" points="436.3,197.8 440.7,205.2 431.9,205.2"/>
<polygon class="a" points="436.3,242 431.9,234.6 440.7,234.6"/>
<text class="tr" transform="translate(440.5,0) rotate(-90)" x="-228.6 -220.29" y="0">51</text>
<line class="d" x1="398" y1="242" x2="475.8" y2="242"/>
<line class="d" x1="255.8" y1="110.5" x2="307.5" y2="110.5"/>
<polygon class="a" points="273,110.5 265.6,114.9 265.6,106.1"/>
<polygon class="a" points="290.8,110.5 298.2,106.1 298.2,114.9"/>
<circle class="ds" cx="317.9" cy="110.4" r="4.6"/>
<line class="ds" x1="314" y1="116.3" x2="321.3" y2="104.3"/>
<text class="tr" x="330.39 339.21" y="114.8">21</text>
<line class="d" x1="282.3" y1="151.3" x2="282.3" y2="183.3"/>
<line class="d" x1="398.3" y1="109" x2="398.3" y2="165"/>
<line class="d" x1="406.3" y1="104.5" x2="406.3" y2="119.5"/>
<line class="d" x1="406.3" y1="132" x2="406.3" y2="183"/>
<line class="d" x1="282.3" y1="157.5" x2="330.5" y2="157.5"/>
<line class="d" x1="356.3" y1="157.5" x2="398.3" y2="157.5"/>
<polygon class="a" points="282.3,157.5 289.7,153.1 289.7,161.9"/>
<polygon class="a" points="398.3,157.5 390.9,161.9 390.9,153.1"/>
<text class="tr" x="330.81 338.55 346.15" y="163">135</text>
<line class="d" x1="282.3" y1="178.2" x2="334" y2="178.2"/>
<line class="d" x1="359" y1="178.2" x2="406.3" y2="178.2"/>
<polygon class="a" points="282.3,178.2 289.7,173.8 289.7,182.6"/>
<polygon class="a" points="406.3,178.2 398.9,182.6 398.9,173.8"/>
<text class="tr" x="333.59 341.3 348.8" y="182.5">144</text>
<line class="thin" x1="397.41" y1="107.87" x2="414.8" y2="143.8"/>
<polygon class="a" points="411.6,136.4 417.06,129.75 420.06,138.02"/>
<line class="thin" x1="418.2" y1="134.2" x2="424" y2="129.2"/>
<text class="tr" transform="translate(428.15,132.07) rotate(-55)" x="0" y="0" style="letter-spacing:0.7px">25</text>
<circle cx="430.75" cy="114" r="0.9" fill="none" stroke="#999" stroke-width="0.7"/>
<polygon class="a" points="398.3,140.8 390.9,145.2 390.9,136.4"/>
<line class="thin" x1="381" y1="137.6" x2="391" y2="140.6"/>
<line class="d" x1="144.7" y1="179" x2="144.7" y2="196.5"/>
<line class="d" x1="196.3" y1="179" x2="196.3" y2="196.5"/>
<line class="d" x1="144.7" y1="185.8" x2="156.75" y2="185.8"/>
<line class="d" x1="183" y1="185.8" x2="196.3" y2="185.8"/>
<polygon class="a" points="144.7,185.8 152.1,181.4 152.1,190.2"/>
<polygon class="a" points="196.3,185.8 188.9,190.2 188.9,181.4"/>
<text class="tr" x="161.72 170.76" y="190.2">60</text>
<line class="d" x1="165.8" y1="209" x2="165.8" y2="236.4"/>
<line class="d" x1="398.3" y1="208" x2="398.3" y2="236.4"/>
<line class="d" x1="165.8" y1="215.3" x2="223.8" y2="215.3"/>
<line class="d" x1="254" y1="215.3" x2="398.3" y2="215.3"/>
<polygon class="a" points="165.8,215.3 173.2,210.9 173.2,219.7"/>
<polygon class="a" points="398.3,215.3 390.9,219.7 390.9,210.9"/>
<text class="tr" x="226.51 235 244.01" y="220.1">270</text>
<line class="d" x1="252.9" y1="256" x2="310" y2="256"/>
<polygon class="a" points="268,256 260.6,260.4 260.6,251.6"/>
<polygon class="a" points="295.6,256 303,251.6 303,260.4"/>
<circle class="ds" cx="230.8" cy="255.8" r="4.5"/>
<line class="ds" x1="226.8" y1="262.2" x2="234.2" y2="250"/>
<text class="tr" x="235.43 244.44" y="260.5">32</text>
<line class="d" x1="152.3" y1="225" x2="152.3" y2="284.3"/>
<polygon class="a" points="152.3,242.2 147.9,234.8 156.7,234.8"/>
<polygon class="a" points="152.3,267 156.7,274.4 147.9,274.4"/>
<line class="d" x1="145.5" y1="267" x2="173.5" y2="267"/>
<text class="tr" transform="translate(157.1,0) rotate(-90)" x="-338.18 -327.62 -319.46 -311.74 -305.5 -303.56 -295.69" y="0" style="font-size:11.6px">max. 55</text>
<line class="d" x1="124.2" y1="242.2" x2="165.6" y2="242.2"/>
<line class="d" x1="130.3" y1="242.2" x2="130.3" y2="325"/>
<line class="d" x1="130.3" y1="354.3" x2="130.3" y2="445.8"/>
<polygon class="a" points="130.3,242.2 134.7,249.6 125.9,249.6"/>
<polygon class="a" points="130.3,445.8 125.9,438.4 134.7,438.4"/>
<text class="tr" transform="translate(135,0) rotate(-90)" x="-351.75 -345.06 -338.96" y="0">500</text>
<line class="d" x1="125.7" y1="445.9" x2="191.4" y2="445.9"/>
<line class="d" x1="358.4" y1="308" x2="358.4" y2="332"/>
<line class="d" x1="376.7" y1="308" x2="376.7" y2="332"/>
<line class="d" x1="342.5" y1="324.8" x2="351" y2="324.8"/>
<line class="d" x1="385.2" y1="324.8" x2="392.8" y2="324.8"/>
<polygon class="a" points="358.4,324.8 351,329.2 351,320.4"/>
<polygon class="a" points="376.7,324.8 384.1,320.4 384.1,329.2"/>
<text class="tr" x="397.71 409.08" y="329.3">G½</text>
<line class="d" x1="363.6" y1="446.5" x2="363.6" y2="462"/>
<line class="d" x1="372.4" y1="446.5" x2="372.4" y2="462"/>
<line class="d" x1="349.6" y1="453.6" x2="356" y2="453.6"/>
<line class="d" x1="380" y1="453.6" x2="386.8" y2="453.6"/>
<polygon class="a" points="363.6,453.6 356.2,458 356.2,449.2"/>
<polygon class="a" points="372.4,453.6 379.8,449.2 379.8,458"/>
<circle class="ds" cx="393.1" cy="453.2" r="4.7"/>
<line class="ds" x1="389.4" y1="459.9" x2="397" y2="447.1"/>
<text class="tr" x="397.91 406.19" y="457.6">10</text>
<line class="cl" x1="195.5" y1="448" x2="195.5" y2="588"/>
<line class="cl" x1="368" y1="449.6" x2="368" y2="588"/>
<line class="d" x1="195.5" y1="474.5" x2="266.5" y2="474.5"/>
<line class="d" x1="294" y1="474.5" x2="368" y2="474.5"/>
<polygon class="a" points="195.5,474.5 202.9,470.1 202.9,478.9"/>
<polygon class="a" points="368,474.5 360.6,478.9 360.6,470.1"/>
<text class="tr" x="269.19 275.39 282.09" y="479">200</text>
<line class="hl" x1="166.2" y1="515" x2="401.7" y2="515"/>
<line class="hl" x1="166.2" y1="594.1" x2="401.7" y2="594.1"/>
<line class="cl" x1="166" y1="554.5" x2="399.2" y2="554.5"/>
<line class="cl" x1="281.7" y1="520.8" x2="281.7" y2="587.5"/>
<circle class="o" cx="195.5" cy="554.5" r="18.3"/>
<circle class="o" cx="281.7" cy="554.5" r="21.2"/>
<circle class="o" cx="368" cy="554.5" r="18.4"/>
<polygon class="a" points="206.7,539.2 209.87,531.19 215.25,538.16"/>
<line class="d" x1="211.44" y1="535.54" x2="215" y2="531.2"/>
<line class="d" x1="215" y1="531.2" x2="248" y2="531.2"/>
<circle class="ds" cx="219.8" cy="523.5" r="4.5"/>
<line class="ds" x1="217.3" y1="528.3" x2="223.7" y2="517"/>
<text class="tr" x="226.12 233.89" y="527.5">30</text>
<polygon class="a" points="297.9,538.6 301.07,530.59 306.45,537.56"/>
<line class="d" x1="302.64" y1="534.94" x2="305.8" y2="531.1"/>
<line class="d" x1="305.8" y1="531.1" x2="339.2" y2="531.1"/>
<circle class="ds" cx="311.25" cy="523.4" r="4.5"/>
<line class="ds" x1="308.3" y1="527.75" x2="315" y2="517.3"/>
<text class="tr" x="317.45 324.97" y="527.5">34</text>
<polygon class="a" points="380.4,538.6 383.57,530.59 388.95,537.56"/>
<line class="d" x1="385.14" y1="534.94" x2="387.5" y2="531.3"/>
<line class="d" x1="387.5" y1="531.3" x2="421.7" y2="531.3"/>
<circle class="ds" cx="393.75" cy="523.4" r="4.5"/>
<line class="ds" x1="390.8" y1="527.75" x2="397.5" y2="517.3"/>
<text class="tr" x="400.32 407.64" y="527.5">30</text>
<rect x="0" y="291.6" width="600" height="16.6" fill="#fff" fill-opacity="0.72"/>
<text class="wm" x="-29.5" y="304" textLength="50.2" lengthAdjust="spacingAndGlyphs">swim.ua</text>
<text class="wm" x="43.3" y="304" textLength="50.2" lengthAdjust="spacingAndGlyphs">swim.ua</text>
<text class="wm" x="116.1" y="304" textLength="50.2" lengthAdjust="spacingAndGlyphs">swim.ua</text>
<text class="wm" x="188.9" y="304" textLength="50.2" lengthAdjust="spacingAndGlyphs">swim.ua</text>
<text class="wm" x="261.7" y="304" textLength="50.2" lengthAdjust="spacingAndGlyphs">swim.ua</text>
<text class="wm" x="334.5" y="304" textLength="50.2" lengthAdjust="spacingAndGlyphs">swim.ua</text>
<text class="wm" x="407.3" y="304" textLength="50.2" lengthAdjust="spacingAndGlyphs">swim.ua</text>
<text class="wm" x="480.1" y="304" textLength="50.2" lengthAdjust="spacingAndGlyphs">swim.ua</text>
<text class="wm" x="552.9" y="304" textLength="50.2" lengthAdjust="spacingAndGlyphs">swim.ua</text>
</svg>
</body></html>
